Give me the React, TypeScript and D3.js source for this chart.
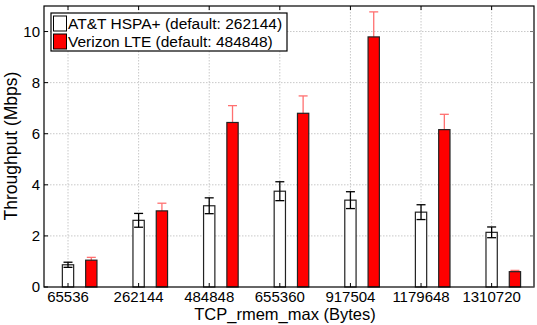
import * as d3 from "d3";

const categories = ["65536", "262144", "484848", "655360", "917504", "1179648", "1310720"];
const attValues = [0.87, 2.61, 3.18, 3.75, 3.4, 2.93, 2.14];
const attErrors = [0.1, 0.27, 0.31, 0.37, 0.33, 0.29, 0.21];
const verizonValues = [1.05, 2.98, 6.44, 6.8, 9.79, 6.16, 0.6];
const verizonErrors = [0.11, 0.3, 0.66, 0.68, 0.98, 0.6, 0.05];
const yTicks = [0, 2, 4, 6, 8, 10];
const seriesNames = ["AT&T HSPA+ (default: 262144)", "Verizon LTE (default: 484848)"];

const W = 537;
const H = 325;
const left = 44, right = 534, top = 6, bottom = 287;
const font = "'Liberation Sans', Arial, sans-serif";

export default function App() {
  const x = d3.scaleLinear().domain([-0.34, 6.6]).range([left, right]);
  const y = d3.scaleLinear().domain([0, 11]).range([bottom, top]);
  const barW = x(0.16) - x(0);
  const offset = 0.33;
  const cap = 4.5;

  const series = [
    { values: attValues, errors: attErrors, fill: "#ffffff", err: "#000000", dx: 0 },
    { values: verizonValues, errors: verizonErrors, fill: "#ff0000", err: "#ff7070", dx: offset },
  ];

  return (
    <svg width={W} height={H} style={{ position: "absolute", left: 0, top: 0, background: "#fff" }}>
      {/* grid */}
      {yTicks.slice(1).map((t) => (
        <line key={"gy" + t} x1={left} x2={right} y1={y(t)} y2={y(t)} stroke="#c8c8c8" strokeDasharray="1.5,1.5" />
      ))}
      {categories.map((c, i) => (
        <line key={"gx" + c} x1={x(i)} x2={x(i)} y1={top} y2={bottom} stroke="#c8c8c8" strokeDasharray="1.5,1.5" />
      ))}

      {/* bars + error bars */}
      {series.map((s, si) =>
        s.values.map((v, i) => {
          const cx = x(i + s.dx);
          const hi = y(v + s.errors[i]);
          const lo = y(Math.max(0, v - s.errors[i]));
          const errBar = (
            <g stroke={s.err} strokeWidth={1.3}>
              <line x1={cx} x2={cx} y1={hi} y2={lo} />
              <line x1={cx - cap} x2={cx + cap} y1={hi} y2={hi} />
              <line x1={cx - cap} x2={cx + cap} y1={lo} y2={lo} />
            </g>
          );
          const bar = (
            <rect x={cx - barW / 2} y={y(v)} width={barW} height={y(0) - y(v)} fill={s.fill} stroke="#222" strokeWidth={1.2} />
          );
          return si === 0 ? (
            <g key={si + "-" + i}>{bar}{errBar}</g>
          ) : (
            <g key={si + "-" + i}>{errBar}{bar}</g>
          );
        })
      )}

      {/* axes box */}
      <rect x={left} y={top} width={right - left} height={bottom - top} fill="none" stroke="#000" strokeWidth={1.2} />
      {yTicks.map((t) => (
        <g key={"ty" + t}>
          <line x1={left} x2={left + 4} y1={y(t)} y2={y(t)} stroke="#000" />
          <line x1={right - 4} x2={right} y1={y(t)} y2={y(t)} stroke="#777" />
          <text x={left - 4} y={y(t) + 5} textAnchor="end" fontFamily={font} fontSize={15}>{t}</text>
        </g>
      ))}
      {categories.map((c, i) => (
        <g key={"tx" + c}>
          <line x1={x(i)} x2={x(i)} y1={top} y2={top + 4} stroke="#000" />
          <line x1={x(i)} x2={x(i)} y1={bottom - 4} y2={bottom} stroke="#000" />
          <text x={x(i)} y={301.5} textAnchor="middle" fontFamily={font} fontSize={15}>{c}</text>
        </g>
      ))}

      {/* axis labels */}
      <text x={285} y={320} textAnchor="middle" fontFamily={font} fontSize={16.5}>TCP_rmem_max (Bytes)</text>
      <text transform="translate(17,146) rotate(-90)" textAnchor="middle" fontFamily={font} fontSize={17.5}>Throughput (Mbps)</text>

      {/* legend */}
      <g>
        <rect x={51} y={13} width={236} height={38} fill="#fff" stroke="#000" strokeWidth={1.2} />
        {series.map((s, i) => (
          <g key={"lg" + i}>
            <rect x={53.5} y={16 + i * 18} width={13} height={15} fill={s.fill} stroke="#000" strokeWidth={1} />
            <text x={68} y={29 + i * 18} fontFamily={font} fontSize={15.5}>{seriesNames[i]}</text>
          </g>
        ))}
      </g>
    </svg>
  );
}
